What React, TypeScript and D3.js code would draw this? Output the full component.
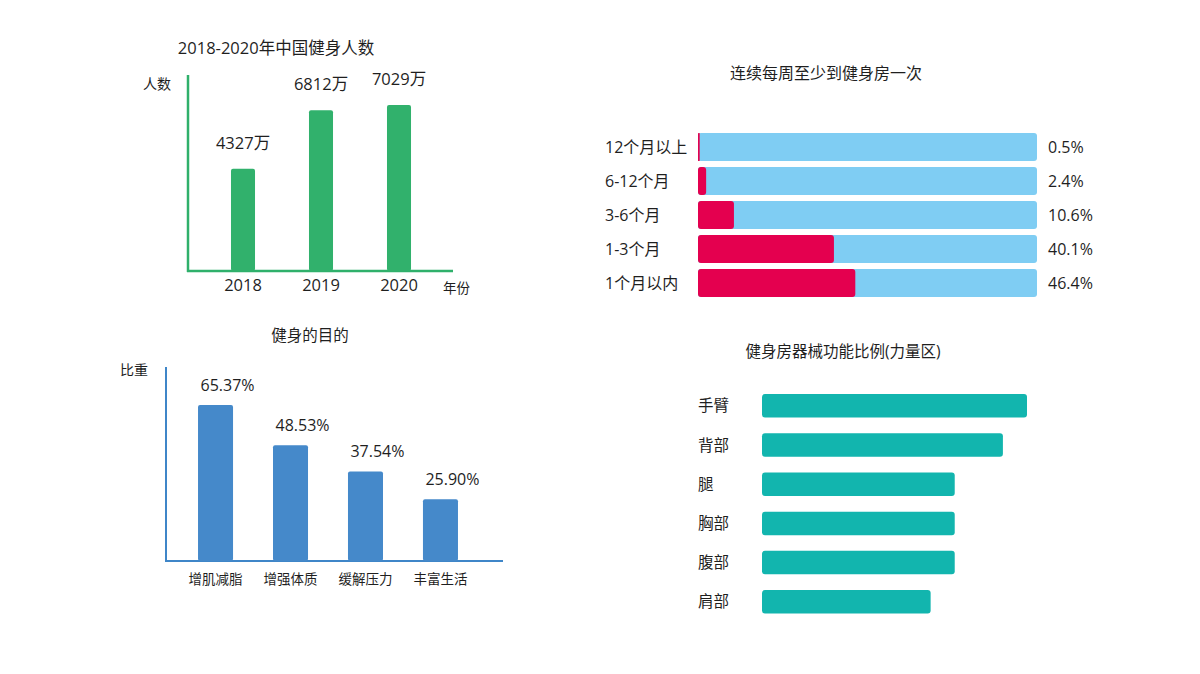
import React from "react";
import * as d3 from "d3";

const years = ["2018", "2019", "2020"];
const people = [4327, 6812, 7029];

const freqCats = ["12个月以上", "6-12个月", "3-6个月", "1-3个月", "1个月以内"];
const freqVals = [0.5, 2.4, 10.6, 40.1, 46.4];

const purposeCats = ["增肌减脂", "增强体质", "缓解压力", "丰富生活"];
const purposeVals = [65.37, 48.53, 37.54, 25.9];

const equipCats = ["手臂", "背部", "腿", "胸部", "腹部", "肩部"];
const equipVals = [11, 10, 8, 8, 8, 7];

const FONT = "'Open Sans', 'Noto Sans CJK SC', sans-serif";
const TXT = "#1f1f1f";

export default function App() {
  // Chart 1
  const x1 = d3.scaleBand().domain(years).range([204, 438]).paddingInner(0.692).paddingOuter(0.346);
  const y1 = d3.scaleLinear().domain([0, 8300]).range([271, 75]);

  // Chart 2
  const y2 = d3.scaleBand().domain(freqCats).range([130, 300]).paddingInner(0.176).paddingOuter(0.088);
  const x2 = d3.scaleLinear().domain([0, 100]).range([698, 1037]);

  // Chart 3
  const x3 = d3.scaleBand().domain(purposeCats).range([178, 478]).paddingInner(0.533).paddingOuter(0.267);
  const y3 = d3.scaleLinear().domain([0, 81.3]).range([561, 367]);

  // Chart 4
  const y4 = d3.scaleBand().domain(equipCats).range([386.2, 621.4]).paddingInner(0.4).paddingOuter(0.2);
  const x4 = d3.scaleLinear().domain([0, 11]).range([762, 1027]);

  return (
    <svg width={1200} height={674} style={{ position: "absolute", left: 0, top: 0, fontFamily: FONT }}>
      <rect width={1200} height={674} fill="#fff" />

      {/* Chart 1 */}
      <text x={276} y={54} textAnchor="middle" fontSize={16.5} fill={TXT}>2018-2020年中国健身人数</text>
      <text x={143} y={89} fontSize={14} fill={TXT}>人数</text>
      <line x1={188} y1={75} x2={188} y2={272} stroke="#2fb06b" strokeWidth={2.5} />
      <line x1={187} y1={271} x2={453} y2={271} stroke="#2fb06b" strokeWidth={2.5} />
      {years.map((yr, i) => (
        <g key={yr}>
          <rect x={x1(yr)} y={y1(people[i])} width={x1.bandwidth()} height={271 - y1(people[i])} rx={2} fill="#31b16c" />
          <text x={x1(yr)! + x1.bandwidth() / 2} y={y1(people[i]) - 20} textAnchor="middle" fontSize={16.5} fill={TXT}>{people[i]}万</text>
          <text x={x1(yr)! + x1.bandwidth() / 2} y={291} textAnchor="middle" fontSize={16.5} fill={TXT}>{yr}</text>
        </g>
      ))}
      <text x={443} y={293} fontSize={13.5} fill={TXT}>年份</text>

      {/* Chart 2 */}
      <text x={826} y={79} textAnchor="middle" fontSize={16} fill={TXT}>连续每周至少到健身房一次</text>
      {freqCats.map((c, i) => {
        const y = y2(c)!;
        const h = y2.bandwidth();
        return (
          <g key={c}>
            <rect x={698} y={y} width={x2(100) - 698} height={h} rx={3} fill="#7fcdf3" />
            <rect x={698} y={y} width={Math.max(x2(freqVals[i]) - 698, 1.5)} height={h} rx={freqVals[i] < 1 ? 0.5 : 3} fill="#e4004f" />
            <text x={605} y={y + h / 2 + 5.5} fontSize={16} fill={TXT}>{c}</text>
            <text x={1048} y={y + h / 2 + 5.5} fontSize={16} fill={TXT}>{freqVals[i]}%</text>
          </g>
        );
      })}

      {/* Chart 3 */}
      <text x={310} y={341} textAnchor="middle" fontSize={15.5} fill={TXT}>健身的目的</text>
      <text x={120} y={375} fontSize={14} fill={TXT}>比重</text>
      <line x1={166} y1={367} x2={166} y2={562} stroke="#3f86c8" strokeWidth={2} />
      <line x1={165} y1={561} x2={503} y2={561} stroke="#3f86c8" strokeWidth={2} />
      {purposeCats.map((c, i) => {
        const cx = x3(c)! + x3.bandwidth() / 2;
        return (
          <g key={c}>
            <rect x={x3(c)} y={y3(purposeVals[i])} width={x3.bandwidth()} height={561 - y3(purposeVals[i])} rx={2} fill="#4589ca" />
            <text x={cx + 12} y={y3(purposeVals[i]) - 14} textAnchor="middle" fontSize={16} fill={TXT}>{purposeVals[i].toFixed(2)}%</text>
            <text x={cx} y={584} textAnchor="middle" fontSize={13.5} fill={TXT}>{c}</text>
          </g>
        );
      })}

      {/* Chart 4 */}
      <text x={843} y={357} textAnchor="middle" fontSize={15.5} fill={TXT}>健身房器械功能比例(力量区)</text>
      {equipCats.map((c, i) => {
        const y = y4(c)!;
        const h = y4.bandwidth();
        return (
          <g key={c}>
            <rect x={762} y={y} width={x4(equipVals[i]) - 762} height={h} rx={3} fill="#12b5ae" />
            <text x={698} y={y + h / 2 + 5.5} fontSize={15.5} fill={TXT}>{c}</text>
          </g>
        );
      })}
    </svg>
  );
}
